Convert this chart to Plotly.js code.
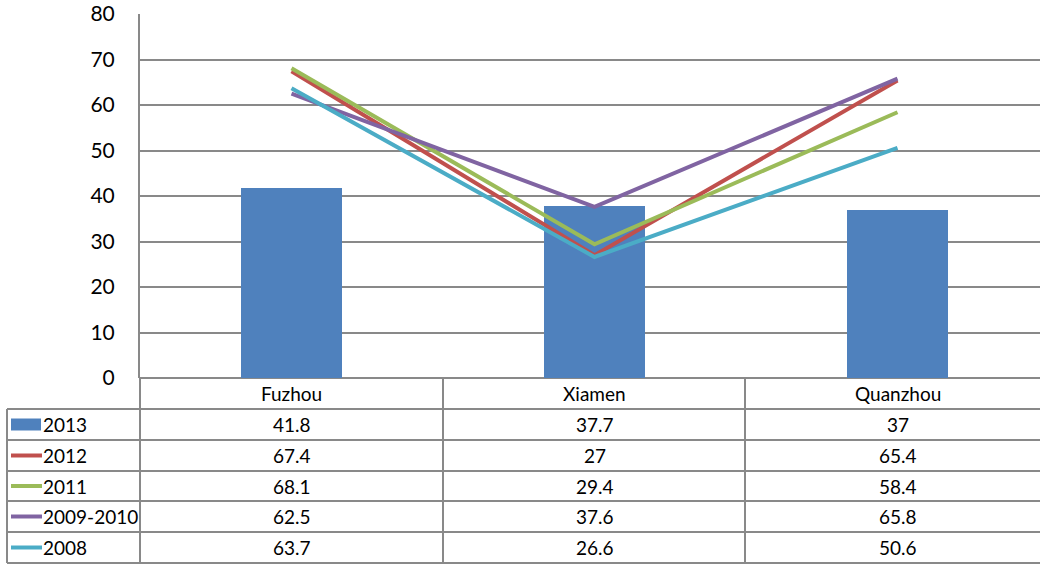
<!DOCTYPE html>
<html>
<head>
<meta charset="utf-8">
<script src="https://cdn.plot.ly/plotly-3.0.1.min.js"></script>
<style>
  html, body { margin: 0; padding: 0; overflow: hidden; background: #fff; }
  #chart { width: 1049px; height: 564px; }
</style>
</head>
<body>
<div id="chart"></div>
<script>
// City scores by survey year
const cities = ['Fuzhou', 'Xiamen', 'Quanzhou'];
const seriesNames = ['2013', '2012', '2011', '2009-2010', '2008'];
const v2013 = [41.8, 37.7, 37];
const v2012 = [67.4, 27, 65.4];
const v2011 = [68.1, 29.4, 58.4];
const v2009_2010 = [62.5, 37.6, 65.8];
const v2008 = [63.7, 26.6, 50.6];
const yTicks = [0, 10, 20, 30, 40, 50, 60, 70, 80];

const seriesValues = [v2013, v2012, v2011, v2009_2010, v2008];
const colors = ['#4F81BD', '#C0504D', '#9BBB59', '#8064A2', '#4BACC6'];

const W = 1049, H = 564;
const L = 140, T = 14, B = 378;          // plot area edges in px
const plotW = W - L, plotH = B - T;
const px2x = px => (px - L) / plotW;
const px2y = py => (B - py) / plotH;

const font = 'Lato, Calibri, "Open Sans", sans-serif';
const gridColor = '#898989';
const tableFont = { family: font, size: 19, color: '#000' };

const traces = [{
  type: 'bar', x: [0, 1, 2], y: v2013, name: seriesNames[0],
  marker: { color: colors[0] }, width: 0.336, hoverinfo: 'skip'
}];
for (let i = 1; i < seriesValues.length; i++) {
  traces.push({
    type: 'scatter', mode: 'lines', x: [0, 1, 2], y: seriesValues[i],
    name: seriesNames[i], line: { color: colors[i], width: 4 }, hoverinfo: 'skip'
  });
}

// Data table under the plot
const shapes = [];
const annotations = [];
const headerTop = 378, headerBottom = 409;
const rowEdges = [409, 440, 471, 501, 532, 563];
const tableLeft = 7;
const colEdges = [140, 443, 745, 1048];
const lineStyle = { color: gridColor, width: 2 };

function hline(x0, x1, y) {
  shapes.push({ type: 'line', xref: 'paper', yref: 'paper',
    x0: px2x(x0), x1: px2x(x1), y0: px2y(y), y1: px2y(y), line: lineStyle });
}
function vline(x, y0, y1) {
  shapes.push({ type: 'line', xref: 'paper', yref: 'paper',
    x0: px2x(x), x1: px2x(x), y0: px2y(y0), y1: px2y(y1), line: lineStyle });
}

// horizontal borders
rowEdges.forEach(y => hline(tableLeft, W, y));
// vertical borders
vline(tableLeft, rowEdges[0], rowEdges[rowEdges.length - 1]);
colEdges.forEach(x => vline(x, headerTop, rowEdges[rowEdges.length - 1]));

// header row: city names
cities.forEach((c, j) => {
  annotations.push({ xref: 'x', yref: 'paper', x: j, y: px2y((headerTop + headerBottom) / 2),
    text: c, showarrow: false, xanchor: 'center', yanchor: 'middle', font: tableFont });
});

// value rows with legend keys
seriesValues.forEach((vals, i) => {
  const cy = (rowEdges[i] + rowEdges[i + 1]) / 2;
  if (i === 0) {
    shapes.push({ type: 'rect', xref: 'paper', yref: 'paper',
      x0: px2x(11), x1: px2x(41), y0: px2y(cy - 6), y1: px2y(cy + 6),
      fillcolor: colors[i], line: { width: 0 } });
  } else {
    shapes.push({ type: 'line', xref: 'paper', yref: 'paper',
      x0: px2x(11), x1: px2x(42), y0: px2y(cy), y1: px2y(cy),
      line: { color: colors[i], width: 4 } });
  }
  annotations.push({ xref: 'paper', yref: 'paper', x: px2x(41), y: px2y(cy),
    text: seriesNames[i], showarrow: false, xanchor: 'left', yanchor: 'middle', font: tableFont });
  vals.forEach((v, j) => {
    annotations.push({ xref: 'x', yref: 'paper', x: j, y: px2y(cy),
      text: String(v), showarrow: false, xanchor: 'center', yanchor: 'middle', font: tableFont });
  });
});

const layout = {
  width: W, height: H,
  margin: { l: L, r: 0, t: T, b: H - B },
  paper_bgcolor: '#fff', plot_bgcolor: '#fff',
  showlegend: false,
  xaxis: {
    range: [-0.5, 2.5], showticklabels: false, showgrid: false, zeroline: false,
    showline: false, fixedrange: true
  },
  yaxis: {
    range: [0, 80], tickvals: yTicks, ticktext: yTicks.map(String),
    showgrid: true, gridcolor: gridColor, gridwidth: 2,
    zeroline: true, zerolinecolor: gridColor, zerolinewidth: 2,
    showline: true, linecolor: gridColor, linewidth: 2,
    ticks: 'outside', ticklen: 19, tickcolor: 'rgba(0,0,0,0)',
    tickfont: { family: font, size: 21, color: '#000' }, fixedrange: true
  },
  shapes: shapes,
  annotations: annotations,
  bargap: 0
};

Plotly.newPlot('chart', traces, layout, { staticPlot: true, displayModeBar: false });
</script>
</body>
</html>
